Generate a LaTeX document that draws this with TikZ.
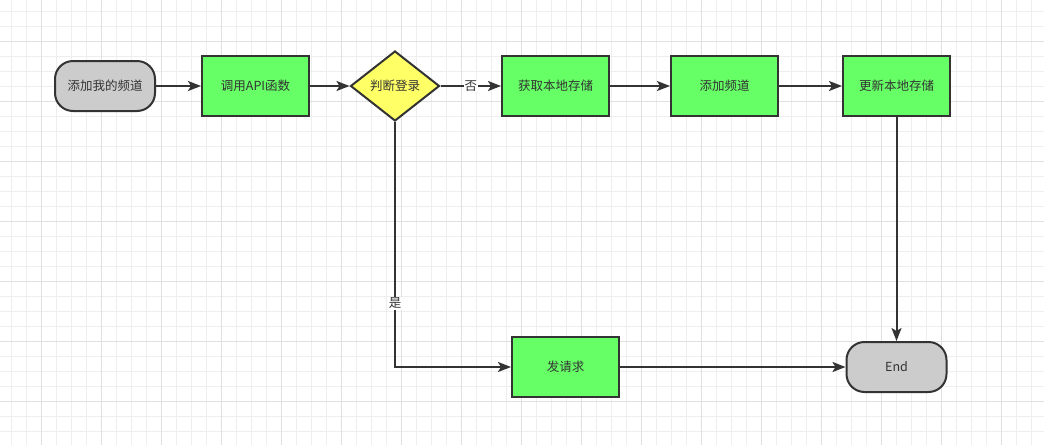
\documentclass[tikz,border=0pt]{standalone}
\usepackage{fontspec}
\newfontfamily\cjk{Noto Sans CJK SC}
\usetikzlibrary{shapes.geometric,arrows.meta}
\definecolor{gridminor}{HTML}{EEEEEE}
\definecolor{gridmajor}{HTML}{E0E0E0}
\definecolor{boxgreen}{HTML}{66FF66}
\definecolor{termgray}{HTML}{CCCCCC}
\definecolor{decyellow}{HTML}{FFFF66}
\definecolor{inkdark}{HTML}{333333}
\tikzset{
  base/.style={draw=inkdark, line width=2pt, text=inkdark, inner sep=0pt,
    font=\cjk\fontsize{12.5}{15}\selectfont},
  procbox/.style={base, rectangle, fill=boxgreen, minimum width=107pt, minimum height=60pt},
  termbox/.style={base, rectangle, rounded corners=18pt, fill=termgray, minimum width=100pt, minimum height=50pt},
  decbox/.style={base, diamond, fill=decyellow, minimum width=89pt, minimum height=70pt},
  conn/.style={draw=inkdark, line width=2pt, -{Stealth[length=13pt,width=10pt,inset=3pt]}},
  lbl/.style={fill=white, text=inkdark, inner sep=1pt, font=\cjk\fontsize{12.5}{15}\selectfont},
}
\begin{document}
\begin{tikzpicture}[x=1pt,y=-1pt]
\useasboundingbox (0,0) rectangle (1044,445);
\fill[white] (0,0) rectangle (1044,445);
\foreach \x in {11.5,26.5,...,1044} \draw[gridminor, line width=0.8pt] (\x,0) -- (\x,445);
\foreach \y in {11.5,26.5,...,445} \draw[gridminor, line width=0.8pt] (0,\y) -- (1044,\y);
\foreach \x in {41.5,101.5,...,1044} \draw[gridmajor, line width=0.8pt] (\x,0) -- (\x,445);
\foreach \y in {41.5,101.5,...,445} \draw[gridmajor, line width=0.8pt] (0,\y) -- (1044,\y);

\node[termbox] (start) at (105,86) {添加我的频道};
\node[procbox] (api) at (255.5,86) {调用API函数};
\node[decbox] (judge) at (395,86) {判断登录};
\node[procbox] (get) at (555.5,86) {获取本地存储};
\node[procbox] (add) at (724.5,86) {添加频道};
\node[procbox] (upd) at (896.5,86) {更新本地存储};
\node[procbox] (req) at (565.5,367) {发请求};
\node[termbox] (end) at (896.5,367) {End};

\draw[conn] (start) -- (api);
\draw[conn] (api) -- (judge);
\draw[conn] (judge) -- node[lbl] {否} (get);
\draw[conn] (get) -- (add);
\draw[conn] (add) -- (upd);
\draw[conn] (upd) -- (end);
\draw[conn] (judge.south) |- node[lbl, pos=0.37] {是} (req.west);
\draw[conn] (req) -- (end);
\end{tikzpicture}
\end{document}
